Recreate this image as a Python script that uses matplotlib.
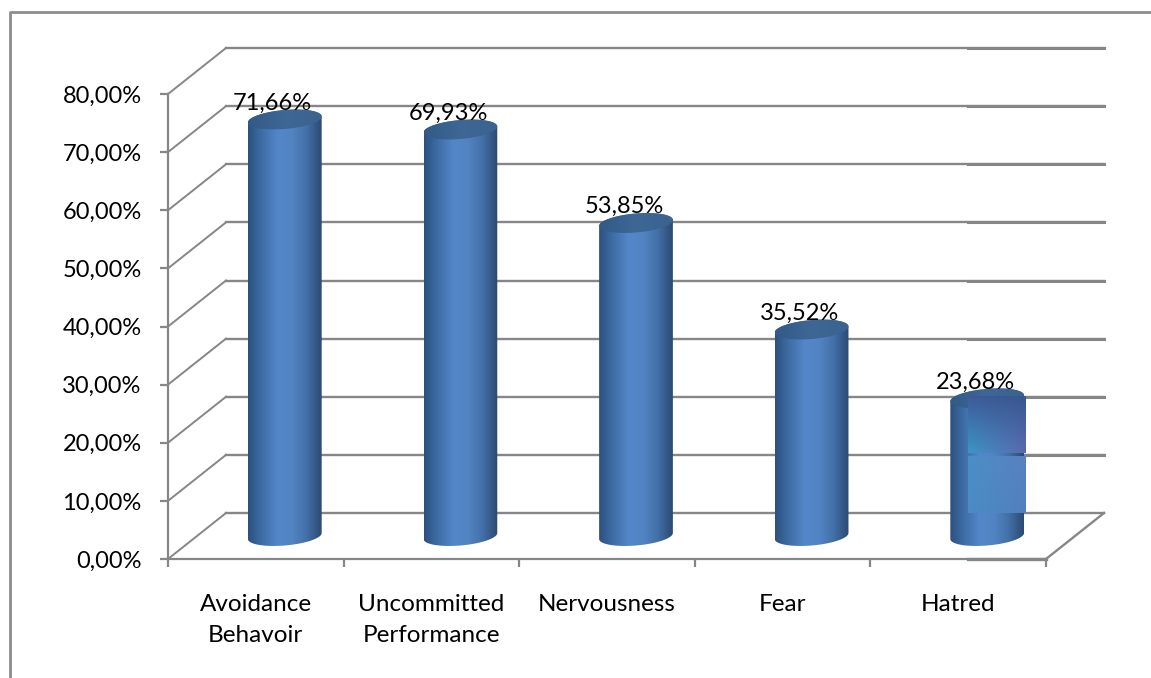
import matplotlib
matplotlib.use("Agg")
import matplotlib.pyplot as plt
import numpy as np
from matplotlib.colors import LinearSegmentedColormap, to_rgb
from matplotlib.lines import Line2D
from matplotlib.path import Path
from matplotlib.patches import PathPatch
from matplotlib.transforms import Affine2D

categories = ["Avoidance\nBehavoir", "Uncommitted\nPerformance", "Nervousness", "Fear", "Hatred"]
values = [71.66, 69.93, 53.85, 35.52, 23.68]
y_ticks = [0, 10, 20, 30, 40, 50, 60, 70, 80]

GRAY = "#868686"
DEPTH_X, DEPTH_Y = 58, 46  # floor depth in pixels
BAR_W = 0.42

plt.rcParams["font.family"] = ["Lato", "DejaVu Sans"]

body_cmap = LinearSegmentedColormap.from_list(
    "body", ["#2c517f", "#3f6fa8", "#5487c9", "#5284c3", "#426fa6", "#2b4a72"])
cap_cmap = LinearSegmentedColormap.from_list("cap", ["#335a86", "#3e6796", "#3a6390"])


def comma(v):
    return f"{v:.2f}".replace(".", ",") + "%"


def ellipse_pts(cx, cy, sy, start, stop):
    # tilted ellipse, sy converts pixels into value units
    t = np.linspace(start, stop, 60)
    x = cx + BAR_W / 2 * np.cos(t)
    y = cy + (9.5 * np.sin(t) + 3 * np.cos(t)) * sy
    return np.column_stack([x, y])


def gradient(ax, cmap, extent, clip, transform, z):
    g = np.linspace(0, 1, 256).reshape(1, -1)
    im = ax.imshow(g, cmap=cmap, extent=extent, aspect="auto", interpolation="bilinear",
                   transform=transform, zorder=z)
    im.set_clip_path(clip)


def corner_patch(ax, corners, extent, transform, z):
    # four corner colours blended across a rectangle
    (tl, tr), (bl, br) = [[np.array(to_rgb(c)) for c in row] for row in corners]
    u = np.linspace(0, 1, 64)[None, :, None]
    v = np.linspace(0, 1, 64)[:, None, None]
    rgb = (1 - v) * ((1 - u) * tl + u * tr) + v * ((1 - u) * bl + u * br)
    ax.imshow(rgb, extent=extent, aspect="auto", interpolation="bilinear",
              transform=transform, zorder=z, origin="upper")


def main():
    fig = plt.figure(figsize=(11.51, 6.78), dpi=100)
    ax = fig.add_axes([168 / 1151, 1 - 559 / 678, (1046 - 168) / 1151, (559 - 94) / 678])
    ax.set_xlim(0, 5)
    ax.set_ylim(0, 80)

    back = ax.transData + Affine2D().translate(DEPTH_X, DEPTH_Y)
    mid = ax.transData + Affine2D().translate(DEPTH_X / 2, DEPTH_Y / 2)
    sy = 80 / 465

    # back wall grid and the diagonals running to the front axis
    for t in y_ticks:
        ax.plot([0, 5], [t, t], color=GRAY, lw=1.7, transform=back, clip_on=False, zorder=1)
        x0, y0 = ax.transData.transform((0, t))
        ax.add_artist(Line2D([x0, x0 + DEPTH_X], [y0, y0 + DEPTH_Y], color=GRAY, lw=1.4,
                             transform=None, clip_on=False, zorder=1))
    x1, y1 = ax.transData.transform((5, 0))
    ax.add_artist(Line2D([x1, x1 + DEPTH_X], [y1, y1 + DEPTH_Y], color=GRAY, lw=1.7,
                         transform=None, clip_on=False, zorder=1))

    for i, v in enumerate(values):
        cx = i + 0.5
        left, right = cx - BAR_W / 2, cx + BAR_W / 2
        # lower edge of the base curves downwards
        bottom_arc = ellipse_pts(cx, 0, sy, -np.pi, 0)
        top_arc = ellipse_pts(cx, v, sy, 0, np.pi)
        body = Path(np.vstack([bottom_arc, top_arc, bottom_arc[:1]]), closed=True)
        body_patch = PathPatch(body, transform=mid, fc="none", ec="none")
        ax.add_patch(body_patch)
        gradient(ax, body_cmap, (left, right, -5, v + 5), body_patch, mid, 2)

        cap = Path(ellipse_pts(cx, v, sy, 0, 2 * np.pi), closed=True)
        cap_patch = PathPatch(cap, transform=mid, fc="none", ec="none")
        ax.add_patch(cap_patch)
        gradient(ax, cap_cmap, (left, right, v - 5, v + 5), cap_patch, mid, 3)

        ax.annotate(comma(v), (cx, v), xycoords=mid, xytext=(-12 * 0.72, 6 * 0.72),
                    textcoords="offset points", ha="center", va="bottom", fontsize=17,
                    color="black", zorder=5, annotation_clip=False)

    # recoloured panels over the last cylinder, two wall bands tall
    px, qx = 4.225, 4.555
    corner_patch(ax, [["#3f5a9a", "#36588f"], ["#3a97c4", "#5c69b0"]], (px, qx, 10.3, 20), back, 4)
    corner_patch(ax, [["#4a8fc6", "#5a80c0"], ["#4a8cc3", "#5280bf"]], (px, qx, 0, 9.7), back, 4)

    # heavier run of the grid lines towards the right end
    for t in y_ticks[1:]:
        ax.plot([px, 5], [t, t], color=GRAY, lw=2.2, transform=back, clip_on=False, zorder=1.5)
    ax.plot([qx, 5], [0, 0], color=GRAY, lw=2.4, clip_on=False, zorder=1.5)

    ax.set_xlim(0, 5)
    ax.set_ylim(0, 80)
    ax.patch.set_visible(False)
    for side in ["top", "right"]:
        ax.spines[side].set_visible(False)
    for side in ["left", "bottom"]:
        ax.spines[side].set_color(GRAY)
        ax.spines[side].set_linewidth(1.6)

    ax.set_yticks(y_ticks)
    ax.set_yticklabels([comma(t) for t in y_ticks], fontsize=17)
    ax.tick_params(axis="y", length=6, width=1.6, color=GRAY, pad=13)
    ax.set_xticks(range(6))
    ax.set_xticklabels([])
    ax.tick_params(axis="x", length=6, width=1.6, color=GRAY)
    ax.set_xticks([i + 0.5 for i in range(5)], minor=True)
    ax.set_xticklabels(categories, minor=True, fontsize=17.5, linespacing=1.62, va="top")
    ax.tick_params(axis="x", which="minor", length=0, pad=25)

    # chart frame, open towards the right and bottom edges
    fig.add_artist(Line2D([10 / 1151, 10 / 1151, 1], [0, 1 - 12 / 678, 1 - 12 / 678],
                          color="#8c8c8c", lw=2))

    fig.savefig("out.png", dpi=100, facecolor="white")


if __name__ == "__main__":
    main()
